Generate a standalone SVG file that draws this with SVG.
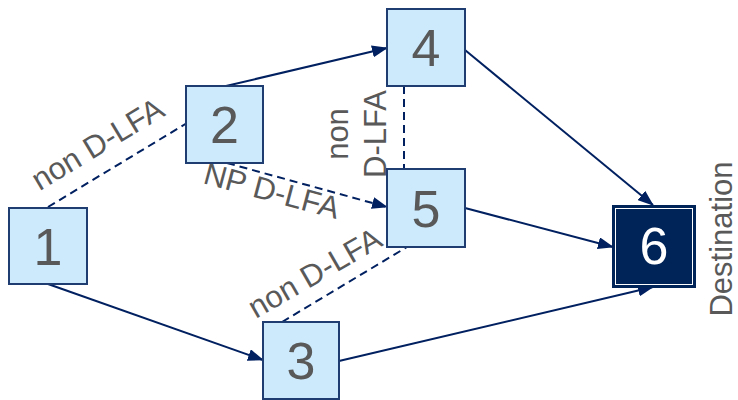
<svg xmlns="http://www.w3.org/2000/svg" width="738" height="400" viewBox="0 0 738 400">
<defs>
<marker id="arr" markerUnits="userSpaceOnUse" markerWidth="16" markerHeight="12" refX="15" refY="6" orient="auto">
<path d="M0,0 L16,6 L0,12 Z" fill="#002060"/>
</marker>
<style>
.edge{stroke:#002060;stroke-width:2;fill:none}
.dash{stroke-dasharray:8 5}
.node rect{fill:#cceafc;stroke:#1f3d70;stroke-width:2}
.num{font-family:"Liberation Sans",Arial,sans-serif;font-size:52px;fill:#595959;text-anchor:middle}
.lbl{font-family:"Liberation Sans",Arial,sans-serif;font-size:31px;fill:#595959;text-anchor:middle}
</style>
</defs>
<rect width="738" height="400" fill="#ffffff"/>
<g id="connectors">
<line class="edge dash" x1="48" y1="207" x2="187" y2="123"/>
<line class="edge" x1="226" y1="86" x2="387" y2="48" marker-end="url(#arr)"/>
<line class="edge dash" x1="227" y1="163" x2="387" y2="207" marker-end="url(#arr)"/>
<line class="edge dash" x1="404" y1="86" x2="404" y2="169"/>
<line class="edge" x1="465" y1="50" x2="653" y2="205" marker-end="url(#arr)"/>
<line class="edge" x1="465" y1="208" x2="613" y2="247" marker-end="url(#arr)"/>
<line class="edge" x1="48" y1="284" x2="263" y2="360" marker-end="url(#arr)"/>
<line class="edge" x1="339" y1="361" x2="653" y2="287" marker-end="url(#arr)"/>
<line class="edge dash" x1="282" y1="322" x2="407" y2="247"/>
<text class="lbl" transform="translate(103,153) rotate(-31)">non D-LFA</text>
<text class="lbl" transform="translate(269,201) rotate(15)">NP D-LFA</text>
<text class="lbl" transform="translate(320,282) rotate(-30)">non D-LFA</text>
<text class="lbl" transform="translate(348,134) rotate(-90)">non</text>
<text class="lbl" transform="translate(386,134) rotate(-90)">D-LFA</text>
</g>
<g id="node1" class="node"><rect x="9" y="208" width="78" height="76"/><text class="num" x="48" y="265">1</text></g>
<g id="node2" class="node"><rect x="186" y="86" width="77" height="77"/><text class="num" x="224.5" y="143">2</text></g>
<g id="node3" class="node"><rect x="263" y="322" width="76" height="77"/><text class="num" x="301" y="379">3</text></g>
<g id="node4" class="node"><rect x="387" y="9" width="78" height="77"/><text class="num" x="426" y="66">4</text></g>
<g id="node5" class="node"><rect x="387" y="169" width="78" height="78"/><text class="num" x="426" y="227">5</text></g>
<g id="node6">
<rect x="613" y="206" width="82" height="81" fill="#002458" stroke="#002458" stroke-width="2"/>
<rect x="615.5" y="208.5" width="77" height="76" fill="none" stroke="#ffffff" stroke-width="1"/>
<text x="654" y="264" font-family="'Liberation Sans',Arial,sans-serif" font-size="52" fill="#ffffff" text-anchor="middle">6</text>
<text class="lbl" transform="translate(732,239) rotate(-90)">Destination</text>
</g>
</svg>
